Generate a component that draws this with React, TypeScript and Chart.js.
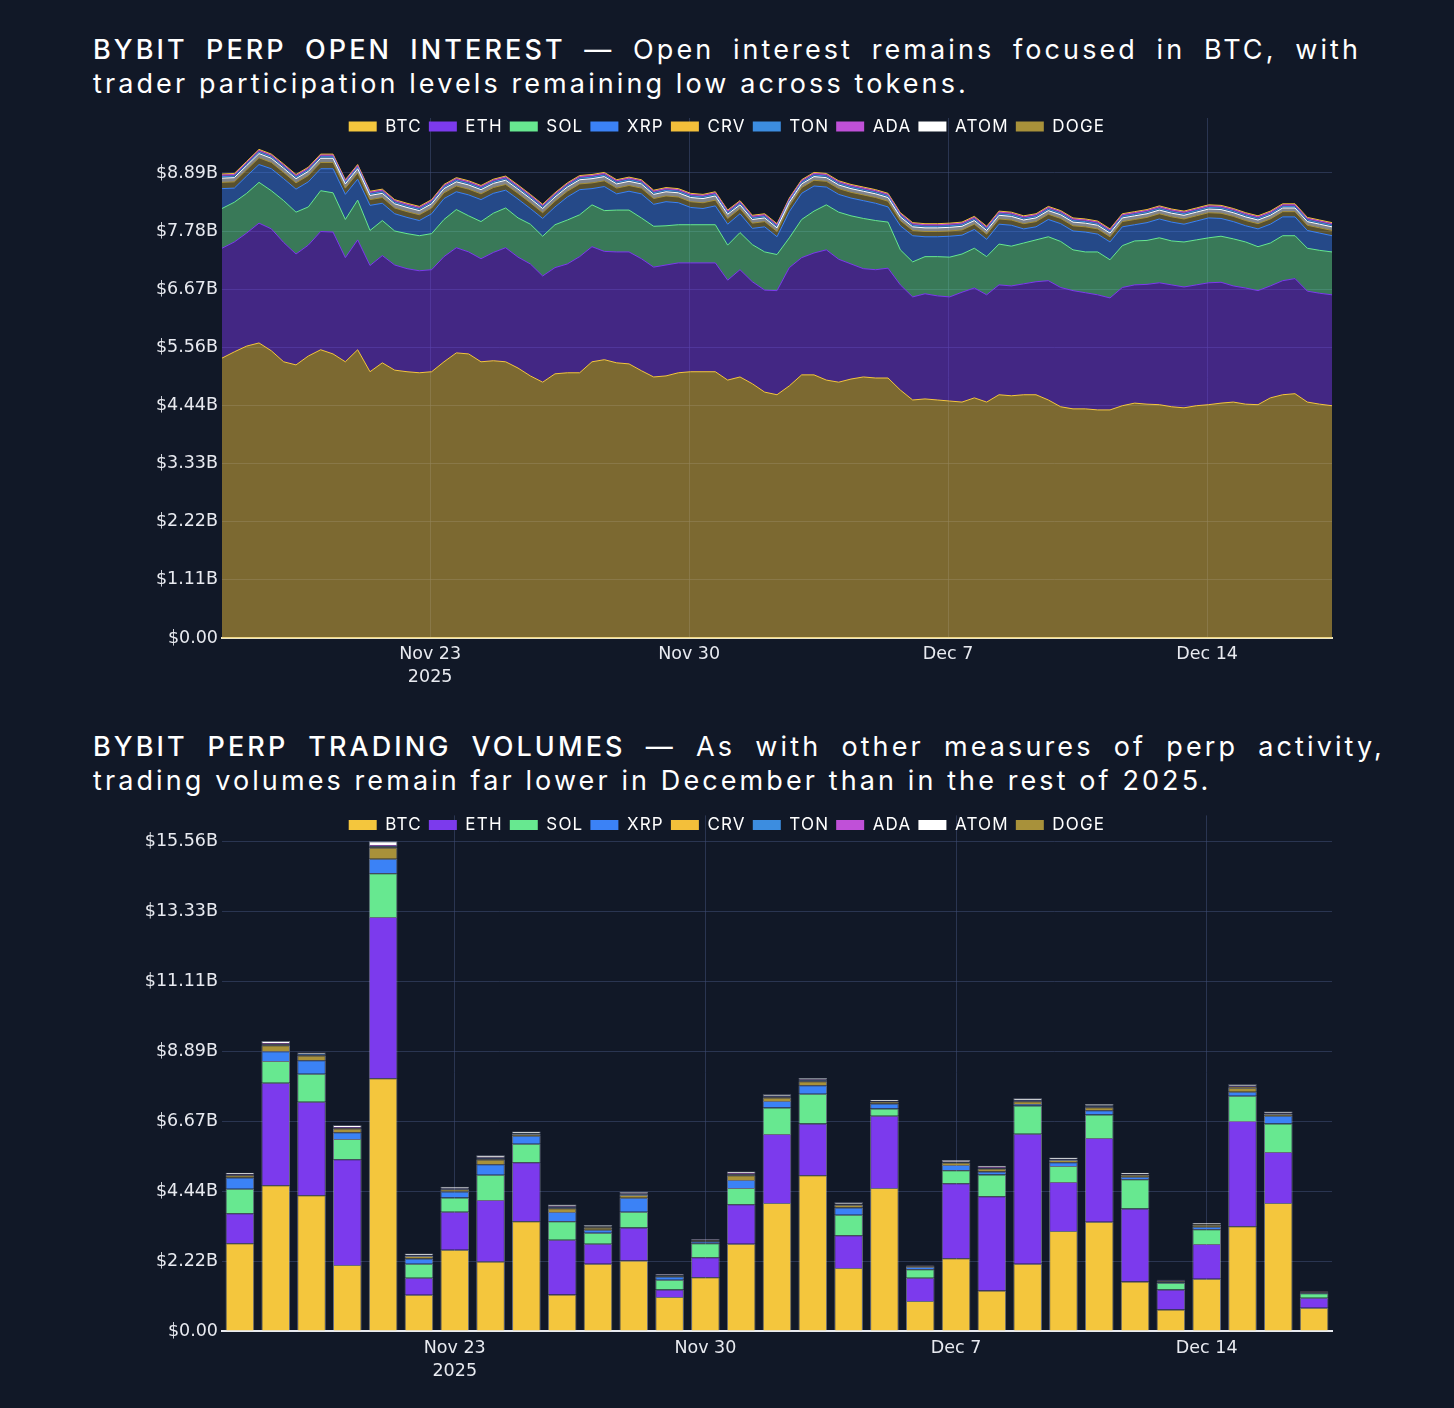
import { useEffect, useRef } from 'react';
import { Chart, registerables } from 'chart.js';

Chart.register(...registerables);

const BG = '#111827';
const GRID = 'rgba(64, 78, 116, 0.55)';
const TICK_COLOR = '#e8eaf0';
const TICK_FONT = { family: '"DejaVu Sans", Verdana, sans-serif', size: 17.5, lineHeight: 1.3 };
const LEGEND_FONT = { family: 'Inter, "Noto Sans", sans-serif', size: 17 };

// legend order as shown on the picture
const TOKENS = ['BTC', 'ETH', 'SOL', 'XRP', 'CRV', 'TON', 'ADA', 'ATOM', 'DOGE'];
const COLORS: Record<string, string> = {
  BTC: '#f4c63d',
  ETH: '#7c3aed',
  SOL: '#67e890',
  XRP: '#3b82f6',
  CRV: '#f3bf3a',
  TON: '#3c8de0',
  ADA: '#c050d8',
  ATOM: '#ffffff',
  DOGE: '#a8913a',
};
// stacking order, bottom to top
const OI_STACK = ['BTC', 'ETH', 'SOL', 'XRP', 'DOGE', 'ATOM', 'TON', 'ADA', 'CRV'];
const VOL_STACK = ['BTC', 'ETH', 'SOL', 'XRP', 'DOGE', 'CRV', 'TON', 'ADA', 'ATOM'];

// ---- open interest, $B, every 8 hours from Nov 17 09:00 ----
const OI_START = 0.375; // days after Nov 17 00:00
const OI_STEP = 1 / 3;

const OI_BTC = [
  5.35, 5.47, 5.58, 5.64, 5.49, 5.28, 5.22, 5.39, 5.51, 5.43,
  5.28, 5.51, 5.09, 5.26, 5.12, 5.09, 5.07, 5.09, 5.28, 5.45,
  5.43, 5.28, 5.3, 5.28, 5.16, 5.01, 4.89, 5.05, 5.07, 5.07,
  5.28, 5.32, 5.26, 5.24, 5.11, 4.99, 5.01, 5.07, 5.09, 5.09,
  5.09, 4.93, 4.99, 4.86, 4.7, 4.65, 4.82, 5.03, 5.03, 4.93,
  4.89, 4.95, 4.99, 4.97, 4.97, 4.74, 4.55, 4.57, 4.55, 4.53,
  4.51, 4.59, 4.51, 4.65, 4.63, 4.65, 4.65, 4.55, 4.42, 4.38,
  4.38, 4.36, 4.36, 4.44, 4.49, 4.47, 4.46, 4.42, 4.4, 4.44,
  4.46, 4.49, 4.51, 4.47, 4.46, 4.59, 4.65, 4.67, 4.51, 4.47,
  4.44,
];
const OI_ETH = [
  2.1, 2.1, 2.16, 2.29, 2.33, 2.28, 2.12, 2.12, 2.26, 2.33,
  1.99, 2.1, 2.03, 2.05, 2.01, 1.97, 1.95, 1.95, 2.01, 2.01,
  1.95, 1.97, 2.07, 2.18, 2.12, 2.14, 2.03, 2.03, 2.08, 2.22,
  2.2, 2.07, 2.12, 2.14, 2.14, 2.1, 2.12, 2.1, 2.08, 2.08,
  2.08, 1.91, 2.05, 1.95, 1.95, 1.99, 2.26, 2.24, 2.33, 2.49,
  2.35, 2.2, 2.07, 2.07, 2.1, 2.01, 1.97, 2.01, 1.99, 1.99,
  2.1, 2.1, 2.05, 2.1, 2.1, 2.12, 2.16, 2.28, 2.28, 2.26,
  2.22, 2.2, 2.14, 2.26, 2.26, 2.29, 2.33, 2.33, 2.31, 2.31,
  2.33, 2.31, 2.22, 2.22, 2.18, 2.14, 2.18, 2.2, 2.12, 2.12,
  2.12,
];
const OI_SOL = [
  0.76, 0.76, 0.76, 0.78, 0.73, 0.8, 0.8, 0.73, 0.78, 0.75,
  0.73, 0.76, 0.67, 0.67, 0.65, 0.67, 0.67, 0.69, 0.71, 0.73,
  0.69, 0.71, 0.75, 0.76, 0.75, 0.76, 0.76, 0.82, 0.84, 0.8,
  0.8, 0.78, 0.8, 0.8, 0.78, 0.78, 0.75, 0.73, 0.73, 0.73,
  0.73, 0.67, 0.71, 0.71, 0.73, 0.69, 0.57, 0.73, 0.8, 0.86,
  0.9, 0.92, 0.96, 0.94, 0.88, 0.67, 0.67, 0.71, 0.75, 0.76,
  0.73, 0.76, 0.73, 0.78, 0.76, 0.78, 0.8, 0.84, 0.88, 0.78,
  0.78, 0.82, 0.73, 0.8, 0.84, 0.84, 0.86, 0.84, 0.86, 0.86,
  0.86, 0.88, 0.9, 0.88, 0.84, 0.82, 0.86, 0.82, 0.82, 0.82,
  0.82,
];
const OI_XRP = [
  0.38, 0.27, 0.33, 0.34, 0.42, 0.42, 0.44, 0.48, 0.42, 0.46,
  0.48, 0.4, 0.48, 0.33, 0.33, 0.31, 0.29, 0.38, 0.4, 0.34,
  0.4, 0.42, 0.38, 0.34, 0.36, 0.3, 0.34, 0.34, 0.44, 0.48,
  0.31, 0.46, 0.31, 0.36, 0.46, 0.42, 0.46, 0.42, 0.33, 0.31,
  0.36, 0.4, 0.36, 0.31, 0.48, 0.34, 0.5, 0.5, 0.48, 0.34,
  0.34, 0.34, 0.34, 0.33, 0.29, 0.46, 0.5, 0.38, 0.38, 0.4,
  0.36, 0.36, 0.33, 0.38, 0.4, 0.27, 0.25, 0.33, 0.34, 0.36,
  0.38, 0.34, 0.34, 0.36, 0.31, 0.34, 0.36, 0.36, 0.34, 0.36,
  0.38, 0.34, 0.33, 0.31, 0.34, 0.36, 0.36, 0.36, 0.34, 0.33,
  0.31,
];
const OI_DOGE = [
  0.12, 0.12, 0.12, 0.13, 0.12, 0.12, 0.12, 0.12, 0.12, 0.12,
  0.12, 0.12, 0.11, 0.11, 0.11, 0.11, 0.11, 0.11, 0.11, 0.11,
  0.11, 0.11, 0.11, 0.11, 0.11, 0.11, 0.11, 0.11, 0.11, 0.11,
  0.11, 0.11, 0.11, 0.11, 0.11, 0.11, 0.11, 0.11, 0.11, 0.11,
  0.11, 0.11, 0.1, 0.1, 0.1, 0.1, 0.11, 0.11, 0.11, 0.11,
  0.11, 0.11, 0.11, 0.11, 0.11, 0.1, 0.1, 0.1, 0.1, 0.1,
  0.1, 0.1, 0.1, 0.1, 0.1, 0.1, 0.1, 0.1, 0.1, 0.1,
  0.1, 0.1, 0.1, 0.1, 0.1, 0.1, 0.1, 0.1, 0.1, 0.1,
  0.1, 0.1, 0.1, 0.1, 0.1, 0.1, 0.1, 0.1, 0.1, 0.1,
  0.1,
];
const OI_ATOM = [
  0.08, 0.08, 0.08, 0.08, 0.08, 0.08, 0.08, 0.08, 0.08, 0.08,
  0.08, 0.08, 0.08, 0.08, 0.08, 0.08, 0.08, 0.08, 0.08, 0.08,
  0.08, 0.08, 0.08, 0.08, 0.08, 0.08, 0.08, 0.08, 0.08, 0.08,
  0.08, 0.08, 0.08, 0.08, 0.08, 0.08, 0.08, 0.08, 0.08, 0.08,
  0.08, 0.08, 0.07, 0.07, 0.07, 0.07, 0.07, 0.07, 0.07, 0.07,
  0.07, 0.07, 0.07, 0.07, 0.07, 0.07, 0.07, 0.07, 0.07, 0.07,
  0.07, 0.07, 0.07, 0.07, 0.07, 0.07, 0.07, 0.07, 0.07, 0.07,
  0.07, 0.07, 0.07, 0.07, 0.07, 0.07, 0.07, 0.07, 0.07, 0.07,
  0.07, 0.07, 0.07, 0.07, 0.07, 0.07, 0.07, 0.07, 0.07, 0.07,
  0.07,
];
const OI_TON = [
  0.03, 0.03, 0.03, 0.03, 0.03, 0.03, 0.03, 0.03, 0.03, 0.03,
  0.03, 0.03, 0.03, 0.03, 0.03, 0.03, 0.03, 0.03, 0.03, 0.03,
  0.03, 0.03, 0.03, 0.03, 0.03, 0.03, 0.03, 0.03, 0.03, 0.03,
  0.03, 0.03, 0.03, 0.03, 0.03, 0.03, 0.03, 0.03, 0.03, 0.03,
  0.03, 0.03, 0.03, 0.03, 0.03, 0.03, 0.03, 0.03, 0.03, 0.03,
  0.03, 0.03, 0.03, 0.03, 0.03, 0.03, 0.03, 0.03, 0.03, 0.03,
  0.03, 0.03, 0.03, 0.03, 0.03, 0.03, 0.03, 0.03, 0.03, 0.03,
  0.03, 0.03, 0.03, 0.03, 0.03, 0.03, 0.03, 0.03, 0.03, 0.03,
  0.03, 0.03, 0.03, 0.03, 0.03, 0.03, 0.03, 0.03, 0.03, 0.03,
  0.03,
];
const OI_ADA = [
  0.03, 0.03, 0.03, 0.03, 0.03, 0.03, 0.03, 0.03, 0.03, 0.03,
  0.03, 0.03, 0.03, 0.03, 0.03, 0.03, 0.03, 0.03, 0.03, 0.03,
  0.03, 0.03, 0.03, 0.03, 0.03, 0.03, 0.03, 0.03, 0.03, 0.03,
  0.03, 0.03, 0.03, 0.03, 0.03, 0.03, 0.03, 0.03, 0.03, 0.03,
  0.03, 0.03, 0.03, 0.03, 0.03, 0.03, 0.03, 0.03, 0.03, 0.03,
  0.03, 0.03, 0.03, 0.03, 0.03, 0.03, 0.03, 0.03, 0.03, 0.03,
  0.03, 0.03, 0.03, 0.03, 0.03, 0.03, 0.03, 0.03, 0.03, 0.03,
  0.03, 0.03, 0.03, 0.03, 0.03, 0.03, 0.03, 0.03, 0.03, 0.03,
  0.03, 0.03, 0.03, 0.03, 0.03, 0.03, 0.03, 0.03, 0.03, 0.03,
  0.03,
];
const OI_CRV = [
  0.02, 0.02, 0.02, 0.02, 0.02, 0.02, 0.02, 0.02, 0.02, 0.02,
  0.02, 0.02, 0.02, 0.02, 0.02, 0.02, 0.02, 0.02, 0.02, 0.02,
  0.02, 0.02, 0.02, 0.02, 0.02, 0.02, 0.02, 0.02, 0.02, 0.02,
  0.02, 0.02, 0.02, 0.02, 0.02, 0.02, 0.02, 0.02, 0.02, 0.02,
  0.02, 0.02, 0.02, 0.02, 0.02, 0.02, 0.02, 0.02, 0.02, 0.02,
  0.02, 0.02, 0.02, 0.02, 0.02, 0.02, 0.02, 0.02, 0.02, 0.02,
  0.02, 0.02, 0.02, 0.02, 0.02, 0.02, 0.02, 0.02, 0.02, 0.02,
  0.02, 0.02, 0.02, 0.02, 0.02, 0.02, 0.02, 0.02, 0.02, 0.02,
  0.02, 0.02, 0.02, 0.02, 0.02, 0.02, 0.02, 0.02, 0.02, 0.02,
  0.02,
];
const OI_TICKS = [6, 13, 20, 27];
const OI_TICK_LABELS = [['Nov 23', '2025'], 'Nov 30', 'Dec 7', 'Dec 14'];

// ---- daily trading volume, $B ----
const VOL_DAYS = [
  'Nov 17', 'Nov 18', 'Nov 19', 'Nov 20', 'Nov 21', 'Nov 22', 'Nov 23', 'Nov 24',
  'Nov 25', 'Nov 26', 'Nov 27', 'Nov 28', 'Nov 29', 'Nov 30', 'Dec 1', 'Dec 2',
  'Dec 3', 'Dec 4', 'Dec 5', 'Dec 6', 'Dec 7', 'Dec 8', 'Dec 9', 'Dec 10',
  'Dec 11', 'Dec 12', 'Dec 13', 'Dec 14', 'Dec 15', 'Dec 16', 'Dec 17',
];
const VOL_BTC = [2.79, 4.63, 4.31, 2.1, 8.03, 1.15, 2.58, 2.21, 3.49, 1.16, 2.14, 2.24, 1.08, 1.71, 2.77, 4.07, 4.95, 2.0, 4.54, 0.95, 2.31, 1.29, 2.14, 3.18, 3.47, 1.57, 0.68, 1.66, 3.33, 4.07, 0.74];
const VOL_ETH = [0.95, 3.26, 2.97, 3.36, 5.12, 0.54, 1.21, 1.95, 1.87, 1.74, 0.63, 1.05, 0.24, 0.63, 1.26, 2.19, 1.64, 1.04, 2.3, 0.74, 2.38, 2.99, 4.13, 1.55, 2.66, 2.32, 0.64, 1.1, 3.34, 1.62, 0.32];
const VOL_SOL = [0.78, 0.69, 0.89, 0.64, 1.39, 0.45, 0.45, 0.8, 0.59, 0.59, 0.35, 0.5, 0.31, 0.45, 0.51, 0.84, 0.95, 0.65, 0.23, 0.27, 0.42, 0.69, 0.89, 0.51, 0.75, 0.93, 0.21, 0.47, 0.8, 0.9, 0.14];
const VOL_XRP = [0.36, 0.31, 0.43, 0.21, 0.46, 0.16, 0.19, 0.34, 0.25, 0.29, 0.1, 0.44, 0.1, 0.05, 0.26, 0.21, 0.27, 0.23, 0.16, 0.07, 0.16, 0.1, 0.05, 0.12, 0.13, 0.08, 0.02, 0.08, 0.13, 0.25, 0.02];
const VOL_DOGE = [0.07, 0.19, 0.15, 0.12, 0.36, 0.08, 0.07, 0.15, 0.06, 0.12, 0.07, 0.09, 0.03, 0.03, 0.15, 0.11, 0.12, 0.09, 0.05, 0.03, 0.08, 0.09, 0.09, 0.07, 0.1, 0.06, 0.03, 0.06, 0.13, 0.05, 0.02];
const VOL_CRV = [0.01, 0.02, 0.02, 0.02, 0.02, 0.01, 0.01, 0.02, 0.01, 0.02, 0.01, 0.01, 0.01, 0.01, 0.02, 0.01, 0.02, 0.01, 0.01, 0.01, 0.01, 0.01, 0.01, 0.01, 0.01, 0.01, 0.01, 0.01, 0.02, 0.01, 0.01];
const VOL_TON = [0.01, 0.02, 0.02, 0.01, 0.03, 0.01, 0.01, 0.02, 0.01, 0.02, 0.01, 0.02, 0.01, 0.01, 0.02, 0.02, 0.02, 0.01, 0.01, 0.01, 0.01, 0.01, 0.01, 0.01, 0.02, 0.01, 0.01, 0.01, 0.02, 0.01, 0.0];
const VOL_ADA = [0.02, 0.02, 0.02, 0.02, 0.03, 0.01, 0.01, 0.02, 0.01, 0.02, 0.01, 0.02, 0.01, 0.01, 0.02, 0.02, 0.02, 0.01, 0.01, 0.01, 0.01, 0.02, 0.02, 0.01, 0.02, 0.01, 0.01, 0.01, 0.02, 0.01, 0.01];
const VOL_ATOM = [0.04, 0.07, 0.04, 0.06, 0.12, 0.05, 0.05, 0.07, 0.05, 0.06, 0.05, 0.05, 0.02, 0.02, 0.06, 0.05, 0.05, 0.05, 0.04, 0.01, 0.05, 0.05, 0.05, 0.05, 0.05, 0.04, 0.02, 0.03, 0.05, 0.05, 0.01];
const VOL_TICKS = ['Nov 23', 'Nov 30', 'Dec 7', 'Dec 14'];

const OI_SERIES: Record<string, number[]> = {
  BTC: OI_BTC, ETH: OI_ETH, SOL: OI_SOL, XRP: OI_XRP, CRV: OI_CRV,
  TON: OI_TON, ADA: OI_ADA, ATOM: OI_ATOM, DOGE: OI_DOGE,
};
const VOL_SERIES: Record<string, number[]> = {
  BTC: VOL_BTC, ETH: VOL_ETH, SOL: VOL_SOL, XRP: VOL_XRP, CRV: VOL_CRV,
  TON: VOL_TON, ADA: VOL_ADA, ATOM: VOL_ATOM, DOGE: VOL_DOGE,
};
const OI_DAYS = OI_BTC.map((_, k) => OI_START + k * OI_STEP);

function withAlpha(hex: string, a: number) {
  const n = parseInt(hex.slice(1), 16);
  return `rgba(${(n >> 16) & 255}, ${(n >> 8) & 255}, ${n & 255}, ${a})`;
}

const money = (v: number) => (v === 0 ? '$0.00' : `$${v.toFixed(2)}B`);

// legend: letter-spaced text, and a short layout box so it can sit over the plot top
function legendTweak(height: number) {
  return {
    id: 'legendTweak',
    beforeLayout(chart: any) {
      const lg = chart.legend;
      if (!lg || lg._tweaked) return;
      lg._tweaked = true;
      const fit = lg.fit.bind(lg);
      const draw = lg.draw.bind(lg);
      lg.fit = () => {
        chart.ctx.save();
        chart.ctx.letterSpacing = '1.2px';
        fit();
        chart.ctx.restore();
        lg.height = height;
      };
      lg.draw = () => {
        // the legend clips to its own box, so open it up while drawing
        const h = lg.height;
        const b = lg.bottom;
        lg.height = 40;
        lg.bottom = lg.top + 40;
        chart.ctx.save();
        chart.ctx.letterSpacing = '1.2px';
        draw();
        chart.ctx.restore();
        lg.height = h;
        lg.bottom = b;
      };
    },
  };
}

const legendOptions = {
  display: true,
  position: 'top' as const,
  labels: {
    color: '#ffffff',
    font: LEGEND_FONT,
    boxWidth: 28,
    boxHeight: 10,
    padding: 7,
    sort: (a: any, b: any) => TOKENS.indexOf(a.text) - TOKENS.indexOf(b.text),
    generateLabels: (chart: any) =>
      Chart.defaults.plugins.legend.labels.generateLabels(chart).map((it: any) => {
        const c = COLORS[it.text];
        return { ...it, fillStyle: c, strokeStyle: c, lineWidth: 0 };
      }),
  },
};

const yAxisWidth = (s: any) => {
  s.width = 100;
};

function OpenInterestChart() {
  const ref = useRef<HTMLCanvasElement | null>(null);

  useEffect(() => {
    if (!ref.current) return;
    const chart = new Chart(ref.current, {
      type: 'line',
      data: {
        datasets: OI_STACK.map((tok, i) => ({
          label: tok,
          data: OI_SERIES[tok].map((v, k) => ({ x: OI_DAYS[k], y: v })),
          borderColor: COLORS[tok],
          backgroundColor: withAlpha(COLORS[tok], 0.47),
          borderWidth: 1,
          pointRadius: 0,
          tension: 0,
          fill: i === 0 ? 'origin' : '-1',
        })),
      },
      options: {
        animation: false,
        responsive: true,
        maintainAspectRatio: false,
        layout: { padding: { top: 11, right: 122, left: 122, bottom: 0 } },
        plugins: { legend: legendOptions, tooltip: { enabled: false } },
        scales: {
          x: {
            type: 'linear',
            min: OI_START,
            max: OI_START + (OI_BTC.length - 1) * OI_STEP,
            afterBuildTicks: (s: any) => {
              s.ticks = OI_TICKS.map((value) => ({ value }));
            },
            afterFit: (s: any) => {
              s.height = 62;
            },
            ticks: {
              color: TICK_COLOR,
              font: TICK_FONT,
              padding: 5,
              maxRotation: 0,
              callback: (v: any) => OI_TICK_LABELS[OI_TICKS.indexOf(Number(v))] ?? '',
            },
            grid: { color: GRID, drawTicks: false },
            border: { display: true, color: '#ece6c4', width: 2 },
          },
          y: {
            stacked: true,
            min: 0,
            max: 9.94,
            afterBuildTicks: (s: any) => {
              s.ticks = [0, 1, 2, 3, 4, 5, 6, 7, 8].map((i) => ({ value: (i * 10) / 9 }));
            },
            afterFit: yAxisWidth,
            ticks: { color: TICK_COLOR, font: TICK_FONT, padding: 4, callback: (v: any) => money(Number(v)) },
            grid: { color: GRID, drawTicks: false },
            border: { display: false },
          },
        },
      },
      plugins: [legendTweak(7)],
    } as any);
    return () => chart.destroy();
  }, []);

  return <canvas ref={ref} />;
}

function VolumeChart() {
  const ref = useRef<HTMLCanvasElement | null>(null);

  useEffect(() => {
    if (!ref.current) return;
    const tickIdx = VOL_TICKS.map((t) => VOL_DAYS.indexOf(t));
    const chart = new Chart(ref.current, {
      type: 'bar',
      data: {
        labels: VOL_DAYS,
        datasets: VOL_STACK.map((tok) => ({
          label: tok,
          data: VOL_SERIES[tok],
          backgroundColor: COLORS[tok],
          borderColor: 'rgba(205, 210, 228, 0.45)',
          borderWidth: 1,
          barPercentage: 0.8,
          categoryPercentage: 1,
        })),
      },
      options: {
        animation: false,
        responsive: true,
        maintainAspectRatio: false,
        layout: { padding: { top: 6, right: 122, left: 122, bottom: 0 } },
        plugins: { legend: legendOptions, tooltip: { enabled: false } },
        scales: {
          x: {
            stacked: true,
            offset: true,
            afterFit: (s: any) => {
              s.height = 77;
            },
            ticks: {
              color: TICK_COLOR,
              font: TICK_FONT,
              padding: 6,
              autoSkip: false,
              maxRotation: 0,
              callback: (_v: any, i: number) => {
                if (!tickIdx.includes(i)) return '';
                return i === tickIdx[0] ? [VOL_DAYS[i], '2025'] : VOL_DAYS[i];
              },
            },
            grid: {
              offset: false,
              drawTicks: false,
              color: (ctx: any) => (tickIdx.includes(ctx.index) ? GRID : 'rgba(0,0,0,0)'),
            },
            border: { display: true, color: '#e8eaf0', width: 2 },
          },
          y: {
            stacked: true,
            min: 0,
            max: 16.38,
            afterBuildTicks: (s: any) => {
              s.ticks = [0, 1, 2, 3, 4, 5, 6, 7].map((i) => ({ value: (i * 20) / 9 }));
            },
            afterFit: yAxisWidth,
            ticks: { color: TICK_COLOR, font: TICK_FONT, padding: 4, callback: (v: any) => money(Number(v)) },
            grid: { color: GRID, drawTicks: false },
            border: { display: false },
          },
        },
      },
      plugins: [legendTweak(6)],
    } as any);
    return () => chart.destroy();
  }, []);

  return <canvas ref={ref} />;
}

function Title(props: { top: number; width: number; head: string; rest: string; line2: string }) {
  return (
    <div
      style={{
        position: 'absolute',
        left: 93,
        top: props.top,
        width: props.width,
        color: '#ffffff',
        fontFamily: 'Inter, "Noto Sans", sans-serif',
        fontSize: 27,
        lineHeight: '34px',
        letterSpacing: '3.1px',
      }}
    >
      <div style={{ textAlign: 'justify', textAlignLast: 'justify' }}>
        <span style={{ fontWeight: 500 }}>{props.head}</span> {props.rest}
      </div>
      <div>{props.line2}</div>
    </div>
  );
}

export default function App() {
  useEffect(() => {
    document.body.style.margin = '0';
    document.body.style.background = BG;
  }, []);

  return (
    <div style={{ position: 'absolute', left: 0, top: 0, width: 1454, height: 1408, background: BG, overflow: 'hidden' }}>
      <Title
        top={33}
        width={1268}
        head="BYBIT PERP OPEN INTEREST"
        rest="— Open interest remains focused in BTC, with"
        line2="trader participation levels remaining low across tokens."
      />
      <div style={{ position: 'absolute', left: 0, top: 100, width: 1454, height: 600 }}>
        <OpenInterestChart />
      </div>
      <Title
        top={730}
        width={1292}
        head="BYBIT PERP TRADING VOLUMES"
        rest="— As with other measures of perp activity,"
        line2="trading volumes remain far lower in December than in the rest of 2025."
      />
      <div style={{ position: 'absolute', left: 0, top: 800, width: 1454, height: 608 }}>
        <VolumeChart />
      </div>
    </div>
  );
}
